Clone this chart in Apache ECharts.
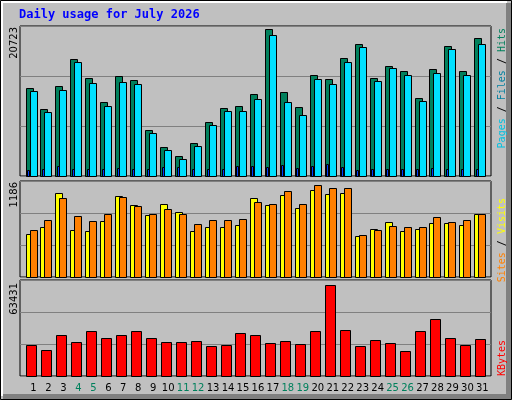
<!DOCTYPE html>
<html><head><meta charset="utf-8">
<script src="https://cdn.jsdelivr.net/npm/echarts@6/dist/echarts.min.js"></script>
<style>html,body{margin:0;padding:0;background:#c0c0c0}#c{width:512px;height:400px}</style>
</head><body><div id="c"></div>
<script>
const days = ['1','2','3','4','5','6','7','8','9','10','11','12','13','14','15','16','17','18','19','20','21','22','23','24','25','26','27','28','29','30','31'];
const weekend = [4,5,11,12,18,19,25,26];
const hits = [12392,9491,12662,16537,13781,10465,14195,13491,6445,4103,2860,4663,7564,9636,9906,11563,20723,11833,9761,14320,13636,16682,18609,13905,15563,14879,11004,15149,18340,14879,19438];
const files = [11978,9077,12123,16122,13076,9906,13221,12952,6030,3689,2445,4248,7149,9222,9222,10880,19853,10465,8662,13636,12952,16122,18195,13366,15294,14320,10589,14610,17925,14320,18609];
const pages = [829,921,1474,921,1059,1059,1197,1059,1059,1335,1335,1059,921,1059,1474,1474,1335,1612,1197,1474,1750,1335,783,1059,921,921,1059,1197,1059,1059,1059];
const sites = [557,646,1083,608,595,724,1045,930,801,942,839,595,646,646,672,1020,930,1058,891,1123,1071,1083,531,621,711,595,621,698,698,672,813];
const visits = [608,737,1020,789,724,813,1032,916,813,878,813,686,737,737,750,968,942,1109,942,1186,1148,1148,543,608,660,646,646,775,711,737,813];
const kbytes = [21784,18275,28736,23836,31517,26617,28736,31517,26617,23836,23836,24565,21055,21784,30126,28736,23174,24565,22446,31517,63431,32179,21055,25227,23174,17612,31517,39793,26617,21784,25955];
const maxLabels = ['20723','1186','63431'];

const chart = echarts.init(document.getElementById('c'), null, {renderer:'canvas'});
const gridDefs = [{top:26,height:150,max:21189},{top:181,height:96,max:1233},{top:280,height:96,max:66697}];
const xMin = -0.869, xMax = 30.61;

function barSeries(gi, data, color, dx, w, name){
  return {type:'custom', name, xAxisIndex:gi, yAxisIndex:gi, clip:false,
    data: data.map((v,i)=>[i,v]),
    renderItem:(params,api)=>{
      const i=api.value(0), v=api.value(1);
      const p0=api.coord([i,0]), p1=api.coord([i,v]);
      return {type:'rect', shape:{x:Math.round(p0[0]+dx)+0.5,y:Math.round(p1[1])+0.5,width:w,height:Math.round(p0[1]-p1[1])},
        style:{fill:color,stroke:'#000',lineWidth:1}};
    }};
}
const labelSeries = {type:'custom', xAxisIndex:2, yAxisIndex:2, clip:false,
  data: days.map((d,i)=>[i,0]),
  renderItem:(params,api)=>{
    const i=api.value(0); const p=api.coord([i,0]);
    const d=days[i];
    return {type:'text', style:{text:d,x:p[0]+0.5,y:388,align:'center',verticalAlign:'middle',
      font:'10px "DejaVu Sans"', fill: weekend.includes(+d)?'#00805c':'#000'}};
  }};

const grids=[],xAxes=[],yAxes=[];
gridDefs.forEach((g,gi)=>{
  grids.push({left:20,right:21,top:g.top,height:g.height,show:true,backgroundColor:'#c0c0c0',borderColor:'#000',borderWidth:1});
  xAxes.push({type:'value',gridIndex:gi,min:xMin,max:xMax,show:false});
  yAxes.push({type:'value',gridIndex:gi,min:0,max:g.max,interval:g.max/3,
    axisLine:{show:false},axisTick:{show:false},axisLabel:{show:false},
    splitLine:{show:true,lineStyle:{color:'#808080',width:1}}});
});

function vtext(x,y,rich,text){
  return {type:'text',x:x,y:y,rotation:Math.PI/2,z:10,
    style:{text:text,rich:rich,align:'right',verticalAlign:'bottom',font:'10px "DejaVu Sans Mono"'}};
}
const mono='10px "DejaVu Sans Mono"';
chart.setOption({
  animation:false,
  backgroundColor:'#c0c0c0',
  grid:grids, xAxis:xAxes, yAxis:yAxes,
  graphic:[
    {type:'rect',z:-10,shape:{x:0.5,y:0.5,width:511,height:399},style:{fill:'#c0c0c0',stroke:'#000',lineWidth:1}},
    {type:'polyline',z:-9,shape:{points:[[2,396],[2,2],[507,2]]},style:{stroke:'#fff',lineWidth:2,fill:null}},
    {type:'rect',z:-9,shape:{x:506,y:3,width:5,height:396},style:{fill:'#808080'}},
    {type:'rect',z:-9,shape:{x:3,y:394,width:508,height:5},style:{fill:'#808080'}},
    {type:'text',x:19,y:15,style:{text:'Daily usage for July 2026',fill:'#0000ff',font:'bold 12px "DejaVu Sans Mono"',verticalAlign:'middle'}},
    {type:'text',x:19,y:27,rotation:Math.PI/2,style:{text:maxLabels[0],font:'10px "DejaVu Sans"',fill:'#000',align:'right',verticalAlign:'bottom'}},
    {type:'text',x:19,y:182,rotation:Math.PI/2,style:{text:maxLabels[1],font:'10px "DejaVu Sans"',fill:'#000',align:'right',verticalAlign:'bottom'}},
    {type:'text',x:19,y:283,rotation:Math.PI/2,style:{text:maxLabels[2],font:'10px "DejaVu Sans"',fill:'#000',align:'right',verticalAlign:'bottom'}},
    vtext(507,28,{p:{fill:'#00c0e0',font:mono},f:{fill:'#0080a0',font:mono},h:{fill:'#00805c',font:mono},s:{fill:'#000',font:mono}},'{p|Pages}{s| / }{f|Files}{s| / }{h|Hits}'),
    vtext(507,198,{a:{fill:'#ff8000',font:mono},b:{fill:'#ffff00',font:mono},s:{fill:'#000',font:mono}},'{a|Sites}{s| / }{b|Visits}'),
    vtext(507,340,{k:{fill:'#ff0000',font:mono}},'{k|KBytes}')
  ],
  series:[
    barSeries(0,hits,'#00805c',-7.5,7,'Hits'),
    barSeries(0,files,'#00e0ff',-3.5,7,'Files'),
    barSeries(0,pages,'#0040ff',-6,2,'Pages'),
    barSeries(1,sites,'#ffff00',-7.5,7,'Sites'),
    barSeries(1,visits,'#ff8000',-3.5,7,'Visits'),
    barSeries(2,kbytes,'#ff0000',-7,10,'KBytes'),
    labelSeries
  ]
});
</script></body></html>
